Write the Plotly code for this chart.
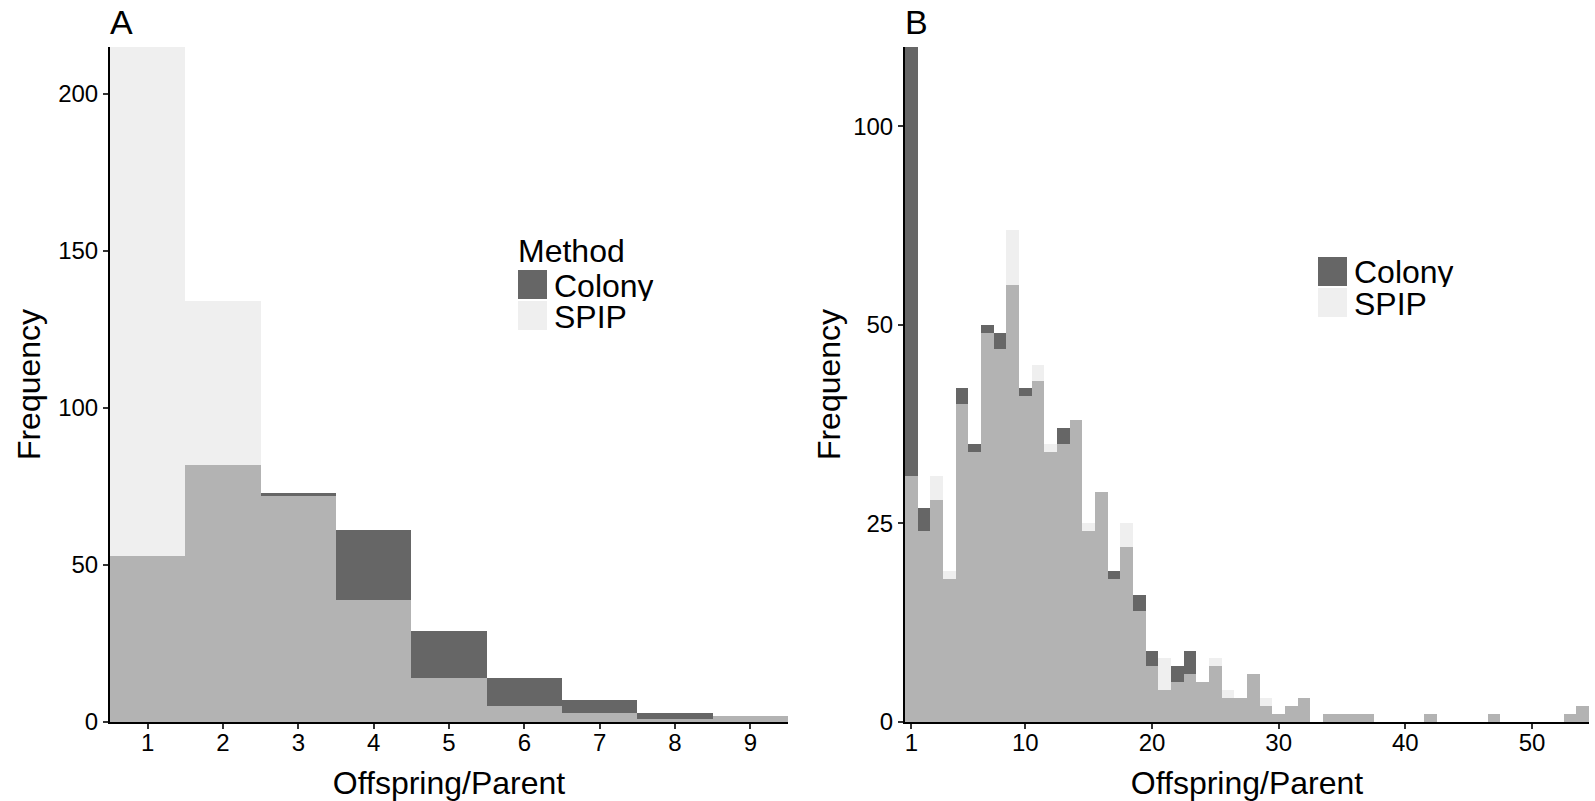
import plotly.graph_objects as go

# ---------------- data ----------------
bins_A = [1, 2, 3, 4, 5, 6, 7, 8, 9]
colony_A = [53, 82, 73, 61, 29, 14, 7, 3, 2]
spip_A = [215, 134, 72, 39, 14, 5, 3, 1, 2]

bins_B = list(range(1, 55))
colony_B = [110, 27, 28, 18, 42, 35, 50, 49, 55, 42,
            43, 34, 37, 38, 24, 29, 19, 22, 16, 9,
            4, 7, 9, 5, 7, 3, 3, 6, 2, 1,
            2, 3, 0, 1, 1, 1, 1, 0, 0, 0,
            0, 1, 0, 0, 0, 0, 1, 0, 0, 0,
            0, 0, 1, 2]
spip_B = [31, 24, 31, 19, 40, 34, 49, 47, 62, 41,
          45, 35, 35, 38, 25, 29, 18, 25, 14, 7,
          8, 5, 6, 5, 8, 4, 3, 6, 3, 1,
          2, 3, 0, 1, 1, 1, 1, 0, 0, 0,
          0, 1, 0, 0, 0, 0, 1, 0, 0, 0,
          0, 0, 1, 2]

xticks_A = [1, 2, 3, 4, 5, 6, 7, 8, 9]
yticks_A = [0, 50, 100, 150, 200]
xticks_B = [1, 10, 20, 30, 40, 50]
yticks_B_vals = [0, 25, 50, 75]
yticks_B_text = ["0", "25", "50", "100"]

methods = ["Colony", "SPIP"]
COLONY = "#666666"
SPIP = "rgba(229,229,229,0.608)"   # gives #efefef on white, #b3b3b3 over Colony
SPIP_SWATCH = "#efefef"

FONT = "Liberation Sans, Arial, sans-serif"
W, H = 1595, 801

fig = go.Figure()

for xa, ya, b, c, s in [("x", "y", bins_A, colony_A, spip_A),
                        ("x2", "y2", bins_B, colony_B, spip_B)]:
    fig.add_trace(go.Bar(x=b, y=c, name="Colony", marker=dict(color=COLONY, line=dict(width=0)),
                         width=1, xaxis=xa, yaxis=ya, showlegend=False))
    fig.add_trace(go.Bar(x=b, y=s, name="SPIP", marker=dict(color=SPIP, line=dict(width=0)),
                         width=1, xaxis=xa, yaxis=ya, showlegend=False))

dom_y = [1 - 722 / H, 1 - 47 / H]
axis_common = dict(showline=True, linecolor="black", linewidth=2, ticks="outside",
                   ticklen=5, tickwidth=1.5, tickcolor="#333333", showgrid=False,
                   zeroline=False, automargin=False,
                   tickfont=dict(family=FONT, size=24, color="black"),
                   title_font=dict(family=FONT, size=32, color="black"))

fig.update_layout(
    width=W, height=H, margin=dict(l=0, r=0, t=0, b=0, pad=0, autoexpand=False),
    paper_bgcolor="white", plot_bgcolor="white",
    barmode="overlay", bargap=0, showlegend=False,
    xaxis=dict(domain=[110 / W, 788 / W], range=[0.5, 9.5], tickvals=xticks_A,
               ticklabelstandoff=-7,
               title=dict(text="Offspring/Parent", standoff=26), anchor="y", **axis_common),
    yaxis=dict(domain=dom_y, range=[0, 215], tickvals=yticks_A,
               title=dict(text="Frequency", standoff=8), anchor="x", **axis_common),
    xaxis2=dict(domain=[905 / W, 1589 / W], range=[0.5, 54.5], tickvals=xticks_B,
                ticklabelstandoff=-7,
                title=dict(text="Offspring/Parent", standoff=26), anchor="y2", **axis_common),
    yaxis2=dict(domain=dom_y, range=[0, 85], tickvals=yticks_B_vals, ticktext=yticks_B_text,
                title=dict(text="Frequency", standoff=3), anchor="x2", **axis_common),
)

def px_x(v):
    return v / W

def px_y(v):
    return 1 - v / H

annotations = [
    dict(text="A", x=px_x(108), y=px_y(22)),
    dict(text="B", x=px_x(903), y=px_y(22)),
]
for a in annotations:
    a.update(xref="paper", yref="paper", showarrow=False, xanchor="left", yanchor="middle",
             font=dict(family=FONT, size=34, color="black"))

# manual legends (large swatches like the reference)
shapes = []
legend_specs = [
    # (title or None, title center y, swatch left, first swatch top, text left)
    ("Method", 250, 518, 270, 552),
    (None, None, 1318, 257, 1352),
]
for title, ty, sx, sy, tx in legend_specs:
    if title:
        annotations.append(dict(text=title, x=px_x(sx - 2), y=px_y(ty), xref="paper", yref="paper",
                                xanchor="left", yanchor="middle", showarrow=False, height=31,
                                font=dict(family=FONT, size=32, color="black")))
    for i, (m, col) in enumerate(zip(methods, [COLONY, SPIP_SWATCH])):
        top = sy + i * 31
        shapes.append(dict(type="rect", xref="paper", yref="paper",
                           x0=px_x(sx), x1=px_x(sx + 29), y0=px_y(top + 29), y1=px_y(top),
                           fillcolor=col, line=dict(width=0)))
        annotations.append(dict(text=m, x=px_x(tx), y=px_y(top + 15), xref="paper", yref="paper",
                                xanchor="left", yanchor="middle", showarrow=False, height=31,
                                font=dict(family=FONT, size=32, color="black")))

fig.update_layout(annotations=annotations, shapes=shapes)

fig.write_html("out.html")
